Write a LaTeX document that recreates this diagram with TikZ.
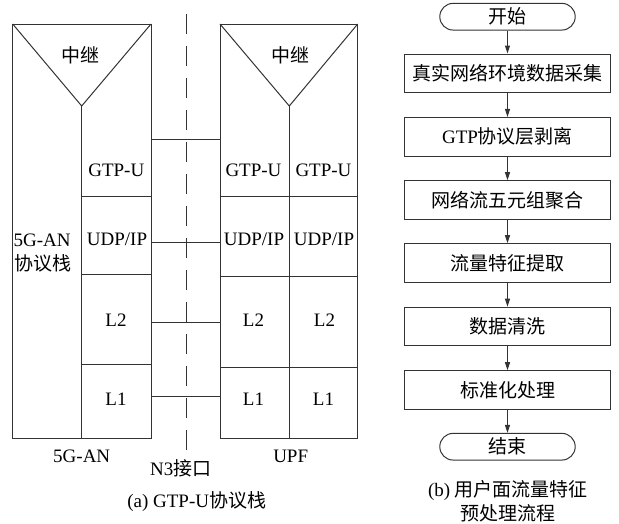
\documentclass[tikz,border=0pt]{standalone}
\usepackage{fontspec}
\setmainfont{Liberation Serif}
\newfontfamily\cjk{Noto Sans CJK SC}
\usetikzlibrary{arrows.meta}
\tikzset{
  ln/.style={line width=1pt, draw=black!80},
  lbl/.style={inner sep=0pt, font=\fontsize{19}{23}\selectfont},
  stepbox/.style={ln, draw, minimum width=206.3pt, minimum height=38.6pt, inner sep=0pt, font=\fontsize{19}{23}\selectfont},
  term/.style={ln, draw, rounded corners=13.3pt, minimum width=135.4pt, minimum height=26.7pt, inner sep=0pt, font=\fontsize{19}{23}\selectfont},
  arr/.style={ln, -{Triangle[length=8pt,width=5pt]}},
  dsh/.style={ln, dash pattern=on 19.5pt off 12.5pt}
}
\begin{document}
\begin{tikzpicture}[x=1pt,y=-1pt]
\useasboundingbox (0,0) rectangle (619,523);
% ---------- 5G-AN stack ----------
\coordinate (anTL) at (12.7,24);
\coordinate (anTR) at (151,24);
\coordinate (anBL) at (12.7,438);
\coordinate (anBR) at (151,438);
\coordinate (anApex) at (81.7,106);
\coordinate (anMidB) at (81.7,438);
\draw[ln] (anTL) rectangle (anBR);
\draw[ln] (anTL) -- (anApex) -- (anTR);
\draw[ln] (anApex) -- (anMidB);
\draw[ln] (81.7,196.7) -- (151,196.7);
\draw[ln] (81.7,274.3) -- (151,274.3);
\draw[ln] (81.7,364.3) -- (151,364.3);
% ---------- UPF stack ----------
\coordinate (upTL) at (220,24);
\coordinate (upTR) at (357.7,24);
\coordinate (upBR) at (357.7,438);
\coordinate (upApex) at (289.3,106);
\coordinate (upMidB) at (289.3,438);
\draw[ln] (upTL) rectangle (upBR);
\draw[ln] (upTL) -- (upApex) -- (upTR);
\draw[ln] (upApex) -- (upMidB);
\draw[ln] (220,196.7) -- (357.7,196.7);
\draw[ln] (220,276.7) -- (357.7,276.7);
\draw[ln] (220,367.3) -- (357.7,367.3);
% ---------- N3 interface ----------
\coordinate (n3top) at (186.7,14);
\coordinate (n3bot) at (186.7,450);
\draw[dsh] (n3top) -- (n3bot);
% peer connectors
\coordinate (anG) at (151,139.3);  \coordinate (upG) at (220,139.3);
\coordinate (anU) at (151,242.5);  \coordinate (upU) at (220,242.5);
\coordinate (anL2) at (151,322.7); \coordinate (upL2) at (220,322.7);
\coordinate (anL1) at (151,396.7); \coordinate (upL1) at (220,396.7);
\draw[ln] (anG) -- (upG);
\draw[ln] (anU) -- (upU);
\draw[ln] (anL2) -- (upL2);
\draw[ln] (anL1) -- (upL1);
% labels left
\node[lbl] (relayA) at (80,55) {\cjk 中继};
\node[lbl] (gtpA) at (116.3,170) {GTP-U};
\node[lbl] (udpA) at (117,239) {UDP/IP};
\node[lbl] (l2A) at (116,320) {L2};
\node[lbl] (l1A) at (116,399) {L1};
\node[lbl, anchor=west] (anName1) at (13.5,240) {5G-AN};
\node[lbl, anchor=west] (anName2) at (14,263) {\cjk 协议栈};
% labels right
\node[lbl] (relayB) at (290,55) {\cjk 中继};
\node[lbl] (gtpB1) at (253.5,170) {GTP-U};
\node[lbl] (gtpB2) at (323.5,170) {GTP-U};
\node[lbl] (udpB1) at (254,239) {UDP/IP};
\node[lbl] (udpB2) at (324,239) {UDP/IP};
\node[lbl] (l2B1) at (253.5,320.5) {L2};
\node[lbl] (l2B2) at (324.5,320.5) {L2};
\node[lbl] (l1B1) at (253.5,399) {L1};
\node[lbl] (l1B2) at (323.5,399) {L1};
% bottom labels
\node[lbl] (anLbl) at (81.7,456.7) {5G-AN};
\node[lbl] (upLbl) at (290.7,456.7) {UPF};
\node[lbl] (n3Lbl) at (180.8,468.3) {N3{\cjk 接口}};
\node[lbl] (capA) at (196.7,501.7) {(a) GTP-U{\cjk 协议栈}};
% ---------- flowchart ----------
\node[term] (start) at (507.5,16.7) {\cjk 开始};
\node[stepbox] (s1) at (507.5,73.3) {\cjk 真实网络环境数据采集};
\node[stepbox] (s2) at (507.5,136.7) {GTP{\cjk 协议层剥离}};
\node[stepbox] (s3) at (507.5,200) {\cjk 网络流五元组聚合};
\node[stepbox] (s4) at (507.5,262.9) {\cjk 流量特征提取};
\node[stepbox] (s5) at (507.5,326.5) {\cjk 数据清洗};
\node[stepbox] (s6) at (507.5,390) {\cjk 标准化处理};
\node[term] (stop) at (507.5,446.7) {\cjk 结束};
\draw[arr] (start) -- (s1);
\draw[arr] (s1) -- (s2);
\draw[arr] (s2) -- (s3);
\draw[arr] (s3) -- (s4);
\draw[arr] (s4) -- (s5);
\draw[arr] (s5) -- (s6);
\draw[arr] (s6) -- (stop);
\node[lbl] (capB1) at (508,490) {(b) {\cjk 用户面流量特征}};
\node[lbl] (capB2) at (507.5,513.3) {\cjk 预处理流程};
\end{tikzpicture}
\end{document}
